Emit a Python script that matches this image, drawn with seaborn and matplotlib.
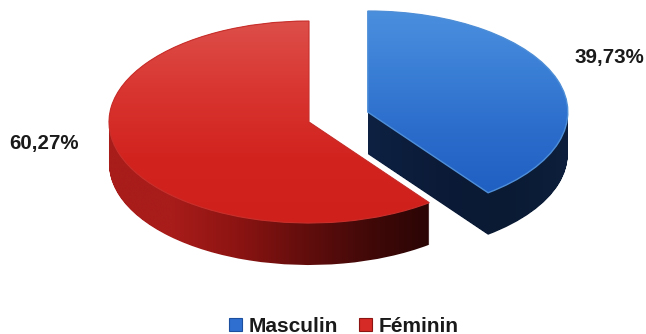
import numpy as np
import matplotlib
matplotlib.use("Agg")
import matplotlib.pyplot as plt
import seaborn as sns
from matplotlib.patches import Patch, PathPatch
from matplotlib.path import Path

categories = ["Masculin", "Féminin"]
values = [39.73, 60.27]
value_labels = ["39,73%", "60,27%"]

sns.set_theme(style="white")
plt.rcParams["font.family"] = ["Liberation Sans", "DejaVu Sans"]

W, H = 646, 334
CX, CY, RX, RY = 309, 122, 200, 101
DEPTH = 42 / RY
EXPLODE = [0.31, 0.0]

fig = plt.figure(figsize=(W / 100, H / 100), dpi=100)
ax = fig.add_axes([0, 0, 1, 1])
xlim = (-CX / RX, (W - CX) / RX)
ylim = ((CY - H) / RY, CY / RY)


def pie_at(dy):
    wedges, _ = ax.pie(values, explode=EXPLODE, startangle=90, counterclock=False,
                       radius=1, center=(0, -dy), colors=["#2f6fd0", "#d62a26"])
    paths = [w.get_path().transformed(w.get_transform() - ax.transData) for w in wedges]
    for w in wedges:
        w.remove()
    return paths


def gradient(colors, vertical):
    pal = np.array(sns.blend_palette(colors, n_colors=256))[:, :3]
    return pal[:, None, :] if vertical else pal[None, :, :]


def paint(path, colors, vertical, extent, z):
    im = ax.imshow(gradient(colors, vertical), extent=extent, aspect="auto",
                   zorder=z, interpolation="bilinear")
    patch = PathPatch(path, transform=ax.transData, fc="none", ec="none")
    ax.add_patch(patch)
    im.set_clip_path(patch)


layers = [pie_at(d) for d in np.linspace(0, DEPTH, 43)]
side_blue = Path.make_compound_path(*[l[0] for l in layers])
side_red = Path.make_compound_path(*[l[1] for l in layers])
top_blue, top_red = pie_at(0)

paint(side_red, ["#a81c1a", "#a81c1a", "#8c1412", "#640e0d", "#420908", "#2a0505"], False,
      ((107 - CX) / RX, (432 - CX) / RX, ylim[0], ylim[1]), 1)
paint(side_blue, ["#0e2142", "#0b1b38", "#0a1a33", "#0d1f3c"], False,
      ((368 - CX) / RX, (570 - CX) / RX, ylim[0], ylim[1]), 1)
paint(top_red, ["#dd4f4a", "#d93631", "#d2231f", "#cf201c"], True,
      (-1.1, 1.1, (CY - 225) / RY, (CY - 20) / RY), 2)
paint(top_blue, ["#4b90de", "#3a7fd6", "#2b6ccb", "#1f5fc2"], True,
      (-1.1, 1.6, (CY - 195) / RY, (CY - 8) / RY), 2)

ax.add_patch(PathPatch(top_blue, fc="none", ec="#4f8fd8", lw=1.0, zorder=3))
ax.add_patch(PathPatch(top_red, fc="none", ec="#c9302c", lw=0.8, zorder=3))

ax.set_xlim(*xlim)
ax.set_ylim(*ylim)
ax.set_aspect("auto")
ax.axis("off")

label_pos = [(609, 57), (44, 143)]
for txt, (px, py) in zip(value_labels, label_pos):
    ax.text(px / W, 1 - py / H, txt, transform=fig.transFigure, ha="center", va="center",
            fontsize=14.8, fontweight="bold", color="#1a1a1a")

handles = [Patch(fc="#2f6fd0", ec="#1c4f9e", lw=0.8), Patch(fc="#d62a26", ec="#8c1412", lw=0.8)]
ax.legend(handles, categories, loc="center", bbox_to_anchor=(344 / W, 1 - 326 / H),
          bbox_transform=fig.transFigure, ncol=2, frameon=False,
          prop={"family": "Liberation Sans", "weight": "bold", "size": 15},
          handlelength=0.6, handleheight=0.6, handletextpad=0.35, columnspacing=1.0,
          borderpad=0, labelcolor="#1a1a1a")

fig.savefig("out.png", dpi=100)
